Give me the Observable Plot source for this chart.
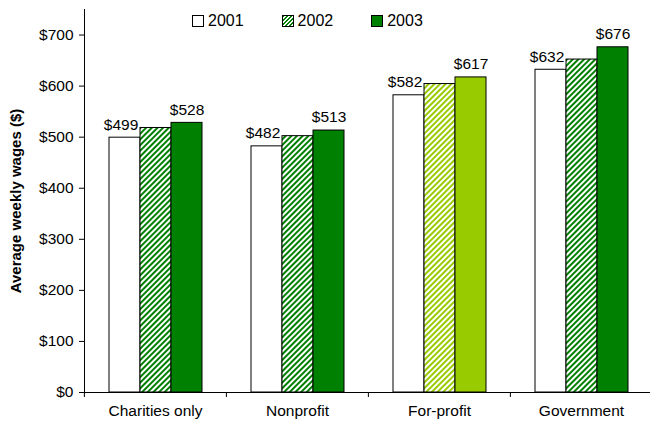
<!DOCTYPE html>
<html>
<head>
<meta charset="utf-8">
<script src="https://cdn.jsdelivr.net/npm/d3@7"></script>
<script src="https://cdn.jsdelivr.net/npm/@observablehq/plot@0.6"></script>
<style>
  html, body { margin: 0; padding: 0; background: white; }
  #wrap { position: relative; width: 650px; height: 428px; overflow: hidden; font-family: "Liberation Sans", Arial, sans-serif; }
  #legend { position: absolute; top: 12px; left: 192px; display: flex; gap: 38px; font-size: 16px; color: black; }
  #legend .item { display: flex; align-items: center; gap: 4px; }
  #legend .sw { width: 10px; height: 10px; border: 1px solid black; box-sizing: content-box; }
  #chart svg { font-family: "Liberation Sans", Arial, sans-serif; font-size: 15.5px; }
  #chart svg text { font-family: "Liberation Sans", Arial, sans-serif; font-size: 15.5px; fill: black; }
  #chart g[aria-label="y-axis label"] text { font-weight: bold; font-size: 15px; }
</style>
</head>
<body>
<svg width="0" height="0" style="position:absolute">
  <defs>
    <pattern id="hatchDark" patternUnits="userSpaceOnUse" width="4" height="4" patternTransform="rotate(45)">
      <rect width="4" height="4" fill="white"></rect>
      <rect width="2" height="4" fill="#008000"></rect>
    </pattern>
    <pattern id="hatchLight" patternUnits="userSpaceOnUse" width="4" height="4" patternTransform="rotate(45)">
      <rect width="4" height="4" fill="white"></rect>
      <rect width="2" height="4" fill="#99cc00"></rect>
    </pattern>
  </defs>
</svg>
<div id="wrap">
  <div id="chart"></div>
  <div id="legend"></div>
</div>
<script>
const categories = ["Charities only", "Nonprofit", "For-profit", "Government"];
const years = ["2001", "2002", "2003"];
const wages2001 = [499, 482, 582, 632];
const wages2002 = [518, 502, 604, 652];
const wages2003 = [528, 513, 617, 676];
const labeledYears = ["2001", "2003"];
const yTicks = [0, 100, 200, 300, 400, 500, 600, 700];
const highlightCategory = "For-profit";

const series = {"2001": wages2001, "2002": wages2002, "2003": wages2003};
const rows = [];
categories.forEach((c, i) => years.forEach(y => rows.push({cat: c, year: y, value: series[y][i]})));

const fillFor = d => {
  const hi = d.cat === highlightCategory;
  if (d.year === "2001") return "white";
  if (d.year === "2002") return hi ? "url(#hatchLight)" : "url(#hatchDark)";
  return hi ? "#99cc00" : "#008000";
};

const W = 650, H = 428, ML = 83, MR = -2, MT = 9, MB = 36;
const step = (W - ML - MR) / categories.length;

const chart = Plot.plot({
  width: W, height: H,
  marginLeft: ML, marginRight: MR, marginTop: MT, marginBottom: MB,
  fx: {domain: categories, padding: 0},
  x: {domain: years, paddingInner: 0, paddingOuter: 0.72, axis: null},
  y: {domain: [0, 750]},
  color: {type: "identity"},
  marks: [
    Plot.barY(rows, {fx: "cat", x: "year", y: "value", fill: fillFor, stroke: "black", strokeWidth: 1}),
    Plot.text(rows.filter(d => d.year === labeledYears[0]), {fx: "cat", x: "year", y: "value", text: d => "$" + d.value, dy: -13, dx: -4}),
    Plot.text(rows.filter(d => d.year === labeledYears[1]), {fx: "cat", x: "year", y: "value", text: d => "$" + d.value, dy: -13}),
    Plot.ruleY([0]),
    Plot.frame({anchor: "left", fx: categories[0]}),
    Plot.axisY({ticks: yTicks, tickSize: 5, tickPadding: 6, tickFormat: d => "$" + d,
      label: "Average weekly wages ($)", labelAnchor: "center", labelOffset: 74, labelArrow: "none"}),
    Plot.axisFx({anchor: "bottom", tickSize: 0, tickPadding: 12, label: null}),
    Plot.axisFx({anchor: "bottom", tickSize: 5, text: null, dx: -step / 2, label: null})
  ]
});
chart.style.overflow = "visible";
document.getElementById("chart").appendChild(chart);

const legend = document.getElementById("legend");
const swatch = {"2001": "white", "2002": "repeating-linear-gradient(135deg, #008000 0 1.4px, white 1.4px 2.8px)", "2003": "#008000"};
years.forEach(y => {
  const it = document.createElement("div");
  it.className = "item";
  const sw = document.createElement("div");
  sw.className = "sw";
  sw.style.background = swatch[y];
  const t = document.createElement("span");
  t.textContent = y;
  it.appendChild(sw); it.appendChild(t);
  legend.appendChild(it);
});
</script>
</body>
</html>
